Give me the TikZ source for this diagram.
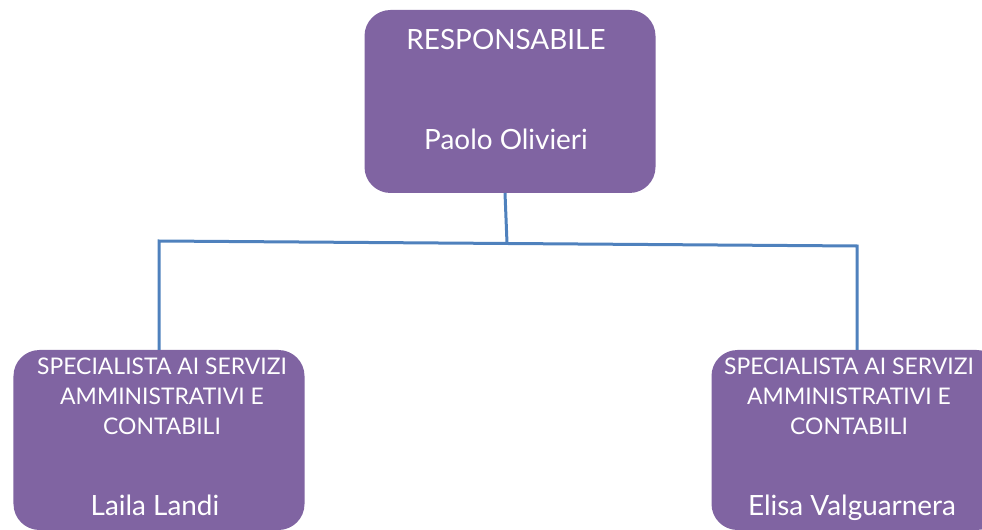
\documentclass[tikz,border=0pt]{standalone}
\usepackage{fontspec}
\setmainfont{Lato}
\usetikzlibrary{positioning, calc}
\definecolor{rolepurple}{HTML}{8064A2}
\definecolor{linkblue}{HTML}{4F81BD}

\begin{document}
\begin{tikzpicture}[x=1bp, y=-1bp,
				role/.style = {rectangle, fill=rolepurple, draw=none, rounded corners=26bp, minimum width=291bp},
				title/.style = {text=white, align=center, inner sep=0pt, font=\fontsize{23}{30}\selectfont},
				person/.style = {text=white, inner sep=0pt, anchor=base, font=\fontsize{28}{30}\selectfont},
				link/.style = {linkblue, line width=3bp},
			]
			\useasboundingbox (0,0) rectangle (982,530);

			% boxes
			\node[role, minimum height=183bp](head) at (510,101.5){};
			\node[role, minimum height=180bp](left) at (159,440){};
			\node[role, minimum height=180bp](right) at (857,440){};

			% texts
			\node[person](headtitle) at (506,50){RESPONSABILE};
			\node[person](headname) at (506,150){Paolo Olivieri};
			\node[title, anchor=north](lefttitle) at (162,358){SPECIALISTA AI SERVIZI\\AMMINISTRATIVI E\\CONTABILI};
			\node[person](leftname) at (155,515){Laila Landi};
			\node[title, anchor=north](righttitle) at (849,358){SPECIALISTA AI SERVIZI\\AMMINISTRATIVI E\\CONTABILI};
			\node[person](rightname) at (852,515){Elisa Valguarnera};

			% connectors
			\coordinate(headfoot) at (505,193);
			\coordinate(fork) at (507,243);
			\coordinate(forkleft) at (159,241);
			\coordinate(forkright) at (857,246);
			\draw[link](headfoot)--(fork);
			\draw[link, line join=miter](left.north)--(forkleft)--(forkright)--(right.north);

		\end{tikzpicture}
\end{document}
